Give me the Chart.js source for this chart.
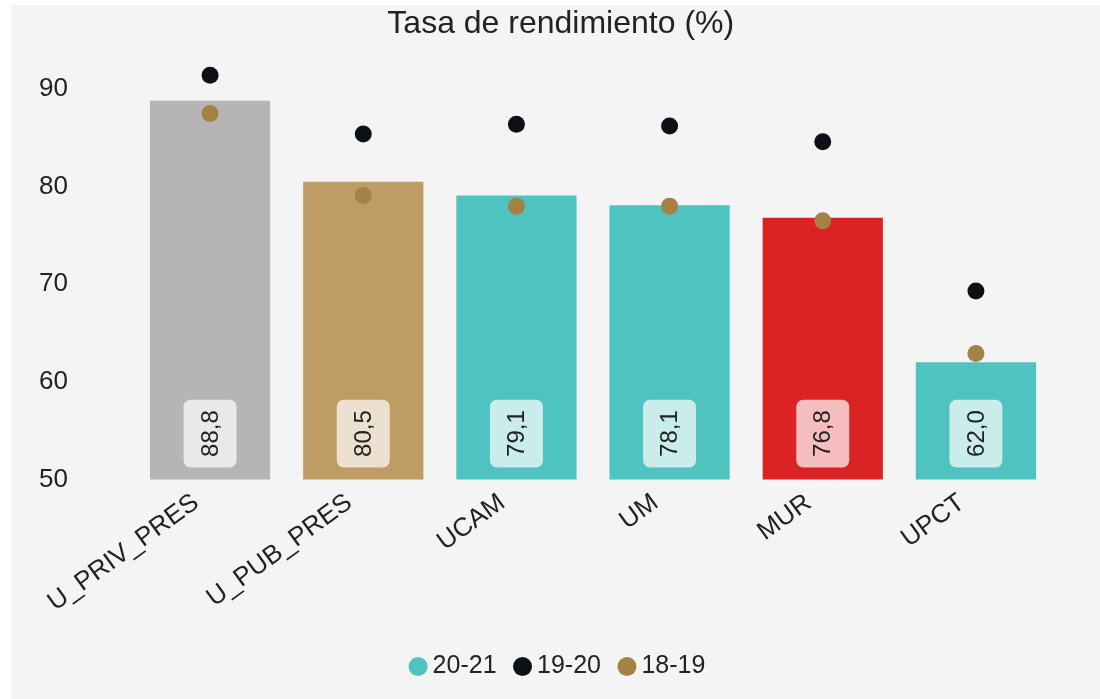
<!DOCTYPE html>
<html>
<head>
<meta charset="utf-8">
<script src="https://cdn.jsdelivr.net/npm/chart.js@4/dist/chart.umd.min.js"></script>
<style>
  html, body { margin: 0; padding: 0; background: #ffffff; overflow: hidden; }
  #wrap { position: absolute; left: 11px; top: 5px; width: 1089px; height: 694px; background: #f4f4f4; }
  canvas { display: block; }
</style>
</head>
<body>
<div id="wrap"><canvas id="c" width="1089" height="694"></canvas></div>
<script>
const categories = ['U_PRIV_PRES', 'U_PUB_PRES', 'UCAM', 'UM', 'MUR', 'UPCT'];
const values2021 = [88.8, 80.5, 79.1, 78.1, 76.8, 62.0];
const values1920 = [91.4, 85.4, 86.4, 86.2, 84.6, 69.3];
const values1819 = [87.5, 79.1, 78.0, 78.0, 76.5, 62.9];
const barColors = ['#b5b5b5', '#bf9c63', '#4fc3bf', '#4fc3bf', '#dc2323', '#4fc3bf'];
const seriesNames = ['20-21', '19-20', '18-19'];
const seriesColors = ['#4fc3bf', '#0d1117', '#a48245'];
const yTicks = [50, 60, 70, 80, 90];

const FONT = "'Liberation Sans', Arial, sans-serif";
const TEXT = '#222222';

function roundedRect(ctx, x, y, w, h, r) {
  ctx.beginPath();
  ctx.moveTo(x + r, y);
  ctx.lineTo(x + w - r, y);
  ctx.arcTo(x + w, y, x + w, y + r, r);
  ctx.lineTo(x + w, y + h - r);
  ctx.arcTo(x + w, y + h, x + w - r, y + h, r);
  ctx.lineTo(x + r, y + h);
  ctx.arcTo(x, y + h, x, y + h - r, r);
  ctx.lineTo(x, y + r);
  ctx.arcTo(x, y, x + r, y, r);
  ctx.closePath();
}

const valueLabels = {
  id: 'valueLabels',
  afterDatasetsDraw(chart) {
    const ctx = chart.ctx;
    const meta = chart.getDatasetMeta(0);
    const yScale = chart.scales.y;
    const base = yScale.getPixelForValue(yScale.min);
    ctx.save();
    ctx.font = '24px ' + FONT;
    meta.data.forEach((el, i) => {
      const txt = values2021[i].toFixed(1).replace('.', ',');
      const tw = ctx.measureText(txt).width;
      const bw = 53, bh = tw + 21;
      const cx = el.x, cy = base - 12 - bh / 2;
      ctx.fillStyle = 'rgba(255,255,255,0.7)';
      roundedRect(ctx, cx - bw / 2, cy - bh / 2, bw, bh, 7);
      ctx.fill();
      ctx.save();
      ctx.translate(cx, cy);
      ctx.rotate(-Math.PI / 2);
      ctx.fillStyle = TEXT;
      ctx.textAlign = 'center';
      ctx.textBaseline = 'middle';
      ctx.fillText(txt, 0, 1);
      ctx.restore();
    });
    ctx.restore();
  }
};

// shift title and legend horizontally to match the reference centring
const shiftBoxes = {
  id: 'shiftBoxes',
  afterLayout(chart) {
    const t = chart.titleBlock;
    if (t) { t.left += 15; t.right += 15; }
    const l = chart.legend;
    if (l) { l.left += 15; l.right += 15; }
  }
};

new Chart(document.getElementById('c'), {
  data: {
    labels: categories,
    datasets: [
      {
        type: 'bar', label: seriesNames[0], data: values2021,
        backgroundColor: barColors, borderWidth: 0,
        barPercentage: 0.785, categoryPercentage: 1, order: 2
      },
      {
        type: 'line', label: seriesNames[1], data: values1920,
        showLine: false, pointRadius: 8.5, pointHoverRadius: 8.5, pointBorderWidth: 0,
        backgroundColor: seriesColors[1], borderColor: seriesColors[1], order: 1
      },
      {
        type: 'line', label: seriesNames[2], data: values1819,
        showLine: false, pointRadius: 8.5, pointHoverRadius: 8.5, pointBorderWidth: 0,
        backgroundColor: seriesColors[2], borderColor: seriesColors[2], order: 0
      }
    ]
  },
  options: {
    responsive: false,
    animation: false,
    events: [],
    layout: { padding: { left: 28, right: 47.5, top: 0, bottom: 10 } },
    plugins: {
      title: {
        display: true, text: 'Tasa de rendimiento (%)', color: TEXT,
        font: { family: FONT, size: 32, weight: 'normal', lineHeight: 1.1 },
        padding: { top: 2, bottom: -2 }
      },
      legend: {
        display: true, position: 'bottom',
        labels: {
          usePointStyle: true, pointStyle: 'circle',
          boxWidth: 4, boxHeight: 13.4, padding: 24, color: TEXT,
          font: { family: FONT, size: 25 },
          sort: (a, b) => a.datasetIndex - b.datasetIndex,
          generateLabels(chart) {
            const items = Chart.defaults.plugins.legend.labels.generateLabels(chart);
            items.forEach(it => {
              const c = seriesColors[it.datasetIndex];
              it.fillStyle = c; it.strokeStyle = c; it.lineWidth = 0;
            });
            return items;
          }
        }
      },
      tooltip: { enabled: false }
    },
    scales: {
      x: {
        grid: { display: false }, border: { display: false },
        afterFit(scale) { scale.height = scale.height + 12; },
        ticks: {
          color: TEXT, font: { family: FONT, size: 26 },
          minRotation: 36, maxRotation: 36, padding: 0, labelOffset: -14, autoSkip: false
        }
      },
      y: {
        min: 50, max: 95,
        grid: { display: false }, border: { display: false },
        afterFit(scale) { scale.width = 94.5; },
        afterBuildTicks(scale) { scale.ticks = yTicks.map(v => ({ value: v })); },
        ticks: {
          color: TEXT, font: { family: FONT, size: 26 },
          crossAlign: 'far', padding: 0
        }
      }
    }
  },
  plugins: [valueLabels, shiftBoxes]
});
</script>
</body>
</html>
